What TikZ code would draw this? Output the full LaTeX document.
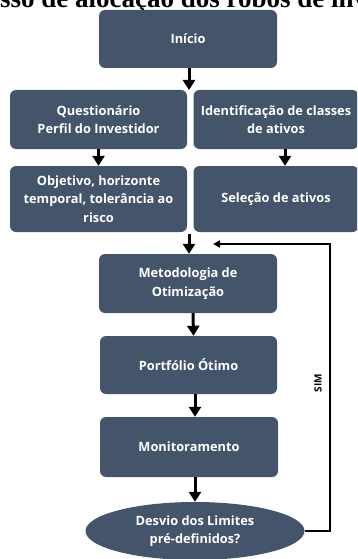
\documentclass[tikz,border=0pt]{standalone}
\usepackage{fontspec}
\setmainfont{Open Sans}
\newfontfamily\titlefont{Liberation Serif}
\usetikzlibrary{arrows.meta,shapes.geometric}
\definecolor{boxblue}{HTML}{44546A}
\begin{document}
\begin{tikzpicture}[x=1pt,y=-1pt,
  box/.style={rectangle, rounded corners=6pt, fill=boxblue, text=white,
    font=\bfseries\fontsize{12.8}{18.5}\selectfont, align=center, inner sep=0pt},
  flow/.style={line width=3pt, -{Triangle[width=12pt,length=10pt]}},
  loopline/.style={line width=2pt, -{Triangle[width=7pt,length=7pt]}}]
\useasboundingbox (0,0) rectangle (357,559);
\clip (0,0) rectangle (357,559);
\node[anchor=base west, inner sep=0pt, font=\titlefont\bfseries\fontsize{27}{30}\selectfont] (title) at (0,8) {\llap{Proce}sso de alocação dos robôs de investimento};
\node[box, minimum width=178pt, minimum height=58pt] (inicio) at (188,39) {Início};
\node[box, minimum width=177pt, minimum height=59pt] (quest) at (98.5,119.5) {Questionário\\Perfil do Investidor};
\node[box, minimum width=165pt, minimum height=59pt] (ident) at (276,119.5) {Identificação de classes\\de ativos};
\node[box, minimum width=177pt, minimum height=66pt] (obj) at (98.5,199) {Objetivo, horizonte\\temporal, tolerância ao\\risco};
\node[box, minimum width=165pt, minimum height=66pt] (sel) at (276,199) {Seleção de ativos};
\node[box, minimum width=178pt, minimum height=59pt] (metod) at (188,283.5) {Metodologia de\\Otimização};
\node[box, minimum width=177pt, minimum height=58pt] (port) at (188.5,365) {Portfólio Ótimo};
\node[box, minimum width=178pt, minimum height=60pt] (monit) at (189,447) {Monitoramento};
\node[box, ellipse, minimum width=219pt, minimum height=58pt] (desvio) at (195,531) {Desvio dos Limites\\pré-definidos?};
\coordinate (split) at (189,90);
\coordinate (join) at (189,234);
\coordinate (loopend) at (213,244);
\draw[flow] ([xshift=1pt]inicio.south) -- (split);
\draw[flow] (quest.south) -- (obj.north);
\draw[flow] ([xshift=9pt]ident.south) -- ([xshift=9pt]sel.north);
\draw[flow] (join) -- (join |- metod.north);
\draw[flow] ([xshift=5pt]metod.south) -- ([xshift=5pt]port.north);
\draw[flow] ([xshift=6.5pt]port.south) -- ([xshift=6pt]monit.north);
\draw[flow] (monit.south -| desvio) -- (desvio.north);
\draw[loopline] (desvio.east) -- ++(25.5,0) |- (loopend);
\node[rotate=90, font=\bfseries\fontsize{10}{11}\selectfont] (sim) at (318,383) {SIM};
\end{tikzpicture}
\end{document}
